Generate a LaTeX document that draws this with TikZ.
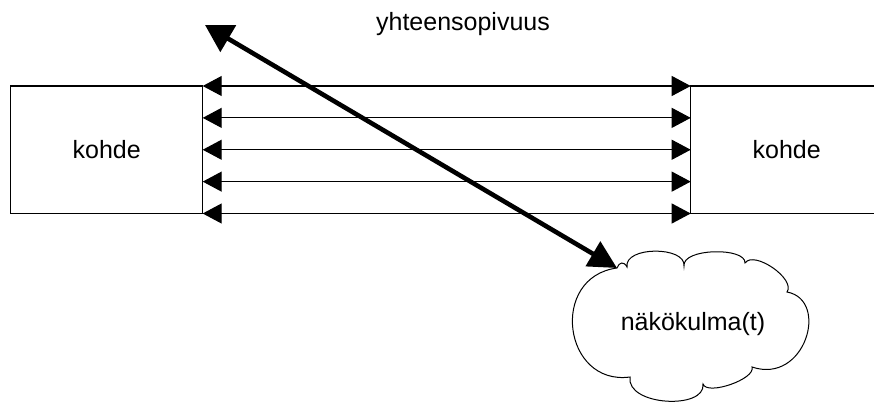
\documentclass[tikz,border=0pt]{standalone}
\usepackage{fontspec}
\setmainfont{Liberation Sans}
\usetikzlibrary{arrows.meta,calc}
\begin{document}
\begin{tikzpicture}[x=1pt,y=-1pt,
  txt/.style={font=\fontsize{25}{30}\selectfont, inner sep=0pt},
  block/.style={draw=black, line width=1.1pt, minimum width=192pt, minimum height=127.5pt,
    inner sep=0pt, outer sep=0pt, font=\fontsize{25}{30}\selectfont},
  link/.style={line width=1.1pt, {Triangle[length=19pt,width=20pt]}-{Triangle[length=19pt,width=20pt]}},
  bold/.style={line width=4.6pt, {Triangle[length=27pt,width=30pt]}-{Triangle[length=28pt,width=28pt]}},
  puff/.style={draw=black, line width=1pt},
]
\useasboundingbox (0,0) rectangle (874,403);
\clip (0,0) rectangle (874,403);

% the two objects
\node[block] (L) at (106.7,149.75) {kohde};
\node[block] (R) at (786.7,149.75) {kohde};

% parallel two-way links between them
\foreach \k in {0,0.25,0.5,0.75,1}
  \draw[link] ($(L.north east)!\k!(L.south east)$) -- ($(R.north west)!\k!(R.south west)$);

% caption above
\node[txt, anchor=base] (compat) at (463,30.5) {yhteensopivuus};

% viewpoint cloud
\coordinate (tipc) at (617,268);
\draw[puff] (tipc)
  .. controls (619,262) and (624,261) .. (627,267)
  .. controls (624,246) and (686,246) .. (684,266)
  .. controls (682,248) and (746,247) .. (745,263)
  .. controls (754,250) and (796,279) .. (787,292)
  .. controls (830,300) and (805,385) .. (752,367)
  .. controls (756,379) and (707,396) .. (703,384)
  .. controls (706,410) and (626,406) .. (630,377)
  .. controls (563,386) and (549,277) .. (tipc) -- cycle;
\node[txt, anchor=base] (view) at (693,330.5) {näkökulma(t)};

% thick two-way arrow
\coordinate (up) at (205,25);
\draw[bold] (up) -- (tipc);
\end{tikzpicture}
\end{document}
